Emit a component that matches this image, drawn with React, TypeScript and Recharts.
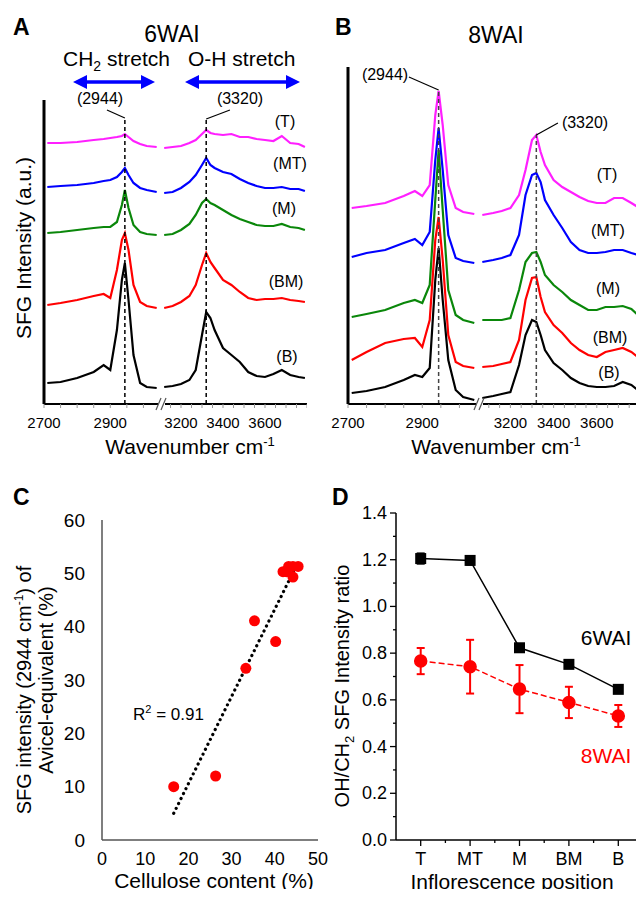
import React from "react";
import {
  ErrorBar,
  Line,
  LineChart,
  ReferenceLine,
  Scatter,
  ScatterChart,
  XAxis,
  YAxis,
} from "recharts";

const FONT = "Arial, 'Liberation Sans', Helvetica, sans-serif";

// ---- A / B: SFG spectra (a.u., stacked offsets as drawn)
const waveLeft = [2710, 2750, 2800, 2850, 2880, 2900, 2920, 2935, 2944, 2955, 2970, 2990, 3010, 3040];
const waveRightA = [3120, 3160, 3200, 3240, 3270, 3300, 3320, 3340, 3360, 3400, 3440, 3480, 3520, 3560, 3600, 3640, 3680, 3720, 3760, 3790];
const waveRightB = [3070, 3120, 3160, 3200, 3240, 3270, 3300, 3320, 3340, 3360, 3400, 3440, 3480, 3520, 3560, 3600, 3640, 3680, 3720, 3760, 3790];

// 6WAI
const sixLeftT = [261, 261, 262, 264, 265, 266, 267, 268, 270, 267, 263, 260, 258, 257];
const sixLeftMT = [217, 218, 219, 221, 223, 224, 227, 232, 236, 229, 221, 216, 214, 212];
const sixLeftM = [171, 172, 174, 176, 177, 177, 182, 199, 214, 196, 179, 172, 170, 169];
const sixLeftBM = [99, 101, 104, 108, 110, 106, 134, 164, 171, 154, 119, 102, 98, 96];
const sixLeftB = [21, 22, 26, 32, 39, 34, 74, 124, 141, 104, 49, 21, 17, 16];
const sixRightT = [256, 257, 258, 261, 264, 270, 274, 271, 270, 269, 270, 267, 267, 265, 264, 263, 268, 261, 260, 257];
const sixRightMT = [211, 212, 216, 222, 229, 239, 246, 239, 236, 232, 230, 225, 221, 218, 216, 216, 217, 215, 215, 213];
const sixRightM = [169, 170, 174, 180, 189, 201, 205, 201, 199, 194, 189, 185, 182, 179, 178, 178, 180, 177, 176, 174];
const sixRightBM = [96, 98, 102, 108, 119, 139, 151, 142, 136, 124, 119, 112, 106, 104, 105, 105, 106, 104, 103, 102];
const sixRightB = [17, 18, 20, 24, 34, 69, 92, 86, 74, 56, 49, 42, 32, 28, 27, 30, 34, 29, 27, 26];

// 8WAI
const eightLeftT = [196, 198, 201, 208, 213, 208, 219, 289, 313, 279, 219, 196, 192, 190];
const eightLeftMT = [147, 151, 154, 161, 165, 159, 172, 244, 276, 234, 169, 146, 143, 141];
const eightLeftM = [87, 90, 94, 101, 104, 101, 119, 204, 254, 194, 114, 89, 84, 81];
const eightLeftBM = [44, 52, 61, 65, 66, 57, 84, 164, 187, 144, 69, 42, 38, 36];
const eightLeftB = [11, 13, 17, 24, 29, 27, 36, 124, 156, 104, 44, 14, 7, 4];
const eightRightT = [189, 191, 193, 196, 209, 234, 264, 269, 252, 239, 224, 217, 212, 207, 203, 201, 201, 206, 206, 201, 197];
const eightRightMT = [142, 144, 146, 149, 169, 209, 229, 231, 222, 204, 189, 176, 162, 154, 151, 151, 152, 154, 154, 151, 149];
const eightRightM = [84, 84, 84, 86, 114, 142, 151, 152, 142, 129, 119, 112, 104, 99, 94, 94, 97, 97, 98, 95, 89];
const eightRightBM = [37, 38, 40, 42, 64, 104, 126, 127, 107, 92, 79, 71, 61, 54, 49, 47, 52, 54, 56, 52, 47];
const eightRightB = [6, 8, 10, 12, 39, 69, 84, 82, 69, 54, 41, 34, 26, 21, 18, 17, 17, 18, 22, 19, 14];

const ticksLeft = [2700, 2750, 2800, 2850, 2900, 2950, 3000, 3050];
const labelsLeft = [2700, 2900];
const ticksRightA = [3100, 3150, 3200, 3250, 3300, 3350, 3400, 3450, 3500, 3550, 3600, 3650, 3700, 3750, 3800];
const ticksRightB = [3050, 3100, 3150, 3200, 3250, 3300, 3350, 3400, 3450, 3500, 3550, 3600, 3650, 3700, 3750, 3800];
const labelsRight = [3200, 3400, 3600];

const traces = [
  { key: "T", color: "#ff1fff" },
  { key: "MT", color: "#0000ff" },
  { key: "M", color: "#0a870a" },
  { key: "BM", color: "#ff0000" },
  { key: "B", color: "#000000" },
];

// ---- C: SFG intensity vs cellulose content
const cellulose = [16.6, 26.3, 33.3, 35.3, 40.2, 41.9, 42.7, 43.2, 44.2, 45.4, 44.2];
const sfgAvicel = [10.0, 12.0, 32.2, 41.1, 37.2, 50.3, 50.3, 51.3, 51.3, 51.3, 49.3];
const trendX = [16.6, 44.6];
const trendY = [5.0, 50.8];

// ---- D: OH/CH2 ratio along inflorescence
const positions = ["T", "MT", "M", "BM", "B"];
const posIndex = [1, 2, 3, 4, 5];
const ratio6 = [1.205, 1.197, 0.823, 0.752, 0.645];
const err6 = [0.022, 0.018, 0.012, 0.012, 0.01];
const ratio8 = [0.766, 0.742, 0.646, 0.589, 0.531];
const err8 = [0.056, 0.115, 0.103, 0.067, 0.047];
const ratioTicks = [0, 0.1, 0.2, 0.3, 0.4, 0.5, 0.6, 0.7, 0.8, 0.9, 1.0, 1.1, 1.2, 1.3, 1.4];
const posTicks = [1, 1.5, 2, 2.5, 3, 3.5, 4, 4.5, 5];

const toRows = (waves: number[], T: number[], MT: number[], M: number[], BM: number[], B: number[]) =>
  waves.map((w, i) => ({ w, T: T[i], MT: MT[i], M: M[i], BM: BM[i], B: B[i] }));

function WaveTick(props: any) {
  const { x, y, payload, labels } = props;
  const show = labels.includes(payload.value);
  return (
    <g>
      <line x1={x} y1={y} x2={x} y2={y + 4} stroke="#999" strokeWidth={1} />
      {show && (
        <text x={x} y={y + 24} textAnchor="middle" fontSize={15} fontFamily={FONT} fill="#000">
          {payload.value}
        </text>
      )}
    </g>
  );
}

type SegProps = {
  rows: any[];
  domain: [number, number];
  ticks: number[];
  labels: number[];
  x: number;
  y: number;
  w: number;
  h: number;
  yMax: number;
  yAxis: boolean;
  children?: React.ReactNode;
};

// one side of the broken wavenumber axis
function SpectrumSegment({ rows, domain, ticks, labels, x, y, w, h, yMax, yAxis, children }: SegProps) {
  const padL = yAxis ? 30 : 0;
  return (
    <div style={{ position: "absolute", left: x - padL, top: y - 10 }}>
      <LineChart
        width={padL + w}
        height={10 + h + 40}
        data={rows}
        margin={{ top: 10, right: 0, bottom: 0, left: yAxis ? padL - 1 : 0 }}
      >
        <XAxis
          type="number"
          dataKey="w"
          domain={domain}
          ticks={ticks}
          interval={0}
          allowDataOverflow
          height={40}
          tickSize={0}
          tickMargin={0}
          tickLine={false}
          axisLine={{ stroke: "#000", strokeWidth: 2 }}
          tick={(p: any) => <WaveTick {...p} labels={labels} />}
        />
        <YAxis
          type="number"
          domain={[0, yMax]}
          hide={!yAxis}
          width={1}
          tick={false}
          tickLine={false}
          axisLine={{ stroke: "#000", strokeWidth: 3 }}
        />
        {traces.map((t) => (
          <Line
            key={t.key}
            type="linear"
            dataKey={t.key}
            stroke={t.color}
            strokeWidth={2.2}
            dot={false}
            isAnimationActive={false}
          />
        ))}
        {children}
      </LineChart>
    </div>
  );
}

function RatioYTick({ x, y, payload }: any) {
  const v = payload.value;
  const major = Math.round(v * 10) % 2 === 0;
  return (
    <g>
      <line x1={x} y1={y} x2={x - (major ? 6 : 3)} y2={y} stroke="#000" strokeWidth={1.3} />
      {major && (
        <text x={x - 9} y={y + 6} textAnchor="end" fontSize={18} fontFamily={FONT} fill="#000">
          {v.toFixed(1)}
        </text>
      )}
    </g>
  );
}

function RatioXTick({ x, y, payload }: any) {
  const v = payload.value;
  const major = Number.isInteger(v);
  return (
    <g>
      <line x1={x} y1={y} x2={x} y2={y + (major ? 6 : 3)} stroke="#000" strokeWidth={1.3} />
      {major && (
        <text x={x} y={y + 25} textAnchor="middle" fontSize={18} fontFamily={FONT} fill="#000">
          {positions[v - 1]}
        </text>
      )}
    </g>
  );
}

function Arrow({ x1, x2, y }: { x1: number; x2: number; y: number }) {
  return (
    <g fill="#0000ff" stroke="none">
      <line x1={x1 + 10} y1={y} x2={x2 - 10} y2={y} stroke="#0000ff" strokeWidth={3.5} />
      <polygon points={`${x1},${y} ${x1 + 14},${y - 7} ${x1 + 14},${y + 7}`} />
      <polygon points={`${x2},${y} ${x2 - 14},${y - 7} ${x2 - 14},${y + 7}`} />
    </g>
  );
}

function AxisBreak({ x, y }: { x: number; y: number }) {
  return (
    <g>
      <rect x={x - 3} y={y - 4} width={7} height={8} fill="#fff" />
      <line x1={x - 5} y1={y + 6} x2={x} y2={y - 6} stroke="#555" strokeWidth={1.2} />
      <line x1={x} y1={y + 6} x2={x + 5} y2={y - 6} stroke="#555" strokeWidth={1.2} />
    </g>
  );
}

export default function App() {
  const sixLeft = toRows(waveLeft, sixLeftT, sixLeftMT, sixLeftM, sixLeftBM, sixLeftB);
  const sixRight = toRows(waveRightA, sixRightT, sixRightMT, sixRightM, sixRightBM, sixRightB);
  const eightLeft = toRows(waveLeft, eightLeftT, eightLeftMT, eightLeftM, eightLeftBM, eightLeftB);
  const eightRight = toRows(waveRightB, eightRightT, eightRightMT, eightRightM, eightRightBM, eightRightB);
  const scatterRows = cellulose.map((x, i) => ({ x, y: sfgAvicel[i] }));
  const ratioRows = posIndex.map((p, i) => ({ p, r6: ratio6[i], e6: err6[i], r8: ratio8[i], e8: err8[i] }));

  const leader = { stroke: "#000", strokeWidth: 1.2 };
  const txt = { fontFamily: FONT, fill: "#000" };

  return (
    <div style={{ position: "relative", width: 644, height: 897, margin: -8, background: "#fff", overflow: "hidden" }}>
      {/* A: 6WAI */}
      <SpectrumSegment rows={sixLeft} domain={[2700, 3050]} ticks={ticksLeft} labels={labelsLeft}
        x={44} y={100} w={116} h={304} yMax={304} yAxis>
        <ReferenceLine segment={[{ x: 2944, y: 0 }, { x: 2944, y: 286 }]} stroke="#000" strokeWidth={1.5} strokeDasharray="4 3" />
        <ReferenceLine segment={[{ x: 2944, y: 286 }, { x: 2890, y: 294 }]} {...leader} />
      </SpectrumSegment>
      <SpectrumSegment rows={sixRight} domain={[3100, 3800]} ticks={ticksRightA} labels={labelsRight}
        x={160} y={100} w={147} h={304} yMax={304} yAxis={false}>
        <ReferenceLine segment={[{ x: 3320, y: 0 }, { x: 3320, y: 285 }]} stroke="#000" strokeWidth={1.5} strokeDasharray="4 3" />
        <ReferenceLine segment={[{ x: 3320, y: 285 }, { x: 3433, y: 294 }]} {...leader} />
      </SpectrumSegment>

      {/* B: 8WAI */}
      <SpectrumSegment rows={eightLeft} domain={[2700, 3050]} ticks={ticksLeft} labels={labelsLeft}
        x={348} y={67} w={130} h={337} yMax={337} yAxis>
        <ReferenceLine segment={[{ x: 2944, y: 0 }, { x: 2944, y: 314 }]} stroke="#444" strokeWidth={1.5} strokeDasharray="4 3" />
        <ReferenceLine segment={[{ x: 2944, y: 314 }, { x: 2864, y: 327 }]} {...leader} />
      </SpectrumSegment>
      <SpectrumSegment rows={eightRight} domain={[3050, 3800]} ticks={ticksRightB} labels={labelsRight}
        x={478} y={67} w={162} h={337} yMax={337} yAxis={false}>
        <ReferenceLine segment={[{ x: 3320, y: 0 }, { x: 3320, y: 269 }]} stroke="#444" strokeWidth={1.5} strokeDasharray="4 3" />
        <ReferenceLine segment={[{ x: 3320, y: 269 }, { x: 3420, y: 281 }]} {...leader} />
      </SpectrumSegment>

      {/* C: scatter */}
      <div style={{ position: "absolute", left: 62, top: 510 }}>
        <ScatterChart width={274} height={370} margin={{ top: 10, right: 18, bottom: 0, left: 0 }}>
          <XAxis
            type="number"
            dataKey="x"
            domain={[0, 50]}
            ticks={[0, 10, 20, 30, 40, 50]}
            interval={0}
            height={40}
            tickLine={false}
            tickSize={0}
            tickMargin={12}
            axisLine={{ stroke: "#555", strokeWidth: 1.5 }}
            tick={{ fontSize: 18, fill: "#000", fontFamily: FONT }}
          />
          <YAxis
            type="number"
            dataKey="y"
            domain={[0, 60]}
            ticks={[0, 10, 20, 30, 40, 50, 60]}
            interval={0}
            width={40}
            tickLine={false}
            tickSize={0}
            tickMargin={17}
            axisLine={{ stroke: "#555", strokeWidth: 1.5 }}
            tick={{ fontSize: 19, fill: "#000", fontFamily: FONT }}
          />
          <Scatter
            data={scatterRows}
            fill="#ff0000"
            isAnimationActive={false}
            shape={(p: any) => <circle cx={p.cx} cy={p.cy} r={5.5} fill="#ff0000" />}
          />
          <ReferenceLine
            segment={[{ x: trendX[0], y: trendY[0] }, { x: trendX[1], y: trendY[1] }]}
            stroke="#000"
            strokeWidth={3.2}
            strokeDasharray="0.1 5.4"
            strokeLinecap="round"
          />
        </ScatterChart>
      </div>

      {/* D: ratio */}
      <div style={{ position: "absolute", left: 336, top: 503 }}>
        <LineChart width={308} height={377} data={ratioRows} margin={{ top: 10, right: 1, bottom: 0, left: 0 }}>
          <XAxis
            type="number"
            dataKey="p"
            domain={[0.5, 5.5]}
            ticks={posTicks}
            interval={0}
            height={40}
            tickSize={0}
            tickMargin={0}
            tickLine={false}
            axisLine={{ stroke: "#000", strokeWidth: 1.5 }}
            tick={(p: any) => <RatioXTick {...p} />}
          />
          <YAxis
            type="number"
            domain={[0, 1.4]}
            ticks={ratioTicks}
            interval={0}
            width={60}
            tickSize={0}
            tickMargin={0}
            tickLine={false}
            axisLine={{ stroke: "#000", strokeWidth: 1.5 }}
            tick={(p: any) => <RatioYTick {...p} />}
          />
          <Line
            type="linear"
            dataKey="r6"
            stroke="#000"
            strokeWidth={1.5}
            isAnimationActive={false}
            dot={(p: any) => <rect key={`s${p.index}`} x={p.cx - 5.5} y={p.cy - 5.5} width={11} height={11} fill="#000" />}
          >
            <ErrorBar dataKey="e6" width={4} stroke="#000" strokeWidth={2} />
          </Line>
          <Line
            type="linear"
            dataKey="r8"
            stroke="#ff0000"
            strokeWidth={1.5}
            strokeDasharray="6 3"
            isAnimationActive={false}
            dot={{ r: 6, fill: "#ff0000", stroke: "#ff0000", strokeDasharray: "" }}
          >
            <ErrorBar dataKey="e8" width={4} stroke="#ff0000" strokeWidth={2} />
          </Line>
        </LineChart>
      </div>

      {/* annotations */}
      <svg width={644} height={897} style={{ position: "absolute", left: 0, top: 0, pointerEvents: "none" }}>
        <AxisBreak x={161} y={404} />
        <AxisBreak x={479} y={404} />

        {/* A */}
        <text x={13} y={35} fontSize={23} fontWeight="bold" {...txt}>A</text>
        <text x={172} y={42} fontSize={23} textAnchor="middle" {...txt}>6WAI</text>
        <text x={63} y={66} fontSize={21} {...txt}>
          CH<tspan dy={5} fontSize={14}>2</tspan><tspan dy={-5}> stretch</tspan>
        </text>
        <text x={188} y={66} fontSize={21} {...txt}>O-H stretch</text>
        <Arrow x1={73} x2={155} y={82} />
        <Arrow x1={185} x2={300} y={82} />
        <text x={100} y={104} fontSize={16} textAnchor="middle" {...txt}>(2944)</text>
        <text x={240} y={104} fontSize={16} textAnchor="middle" {...txt}>(3320)</text>
        <text x={285} y={127} fontSize={16} textAnchor="middle" {...txt}>(T)</text>
        <text x={290} y={169} fontSize={16} textAnchor="middle" {...txt}>(MT)</text>
        <text x={284} y={214} fontSize={16} textAnchor="middle" {...txt}>(M)</text>
        <text x={286} y={287} fontSize={16} textAnchor="middle" {...txt}>(BM)</text>
        <text x={287} y={362} fontSize={16} textAnchor="middle" {...txt}>(B)</text>
        <text transform="translate(31,248) rotate(-90)" fontSize={21} textAnchor="middle" {...txt}>SFG Intensity (a.u.)</text>
        <text x={190} y={454} fontSize={21} textAnchor="middle" {...txt}>
          Wavenumber cm<tspan dy={-8} fontSize={13}>-1</tspan>
        </text>

        {/* B */}
        <text x={335} y={35} fontSize={23} fontWeight="bold" {...txt}>B</text>
        <text x={496} y={43} fontSize={23} textAnchor="middle" {...txt}>8WAI</text>
        <text x={385} y={80} fontSize={16} textAnchor="middle" {...txt}>(2944)</text>
        <text x={585} y={128} fontSize={16} textAnchor="middle" {...txt}>(3320)</text>
        <text x={607} y={180} fontSize={16} textAnchor="middle" {...txt}>(T)</text>
        <text x={608} y={236} fontSize={16} textAnchor="middle" {...txt}>(MT)</text>
        <text x={608} y={294} fontSize={16} textAnchor="middle" {...txt}>(M)</text>
        <text x={610} y={343} fontSize={16} textAnchor="middle" {...txt}>(BM)</text>
        <text x={609} y={378} fontSize={16} textAnchor="middle" {...txt}>(B)</text>
        <text x={496} y={454} fontSize={21} textAnchor="middle" {...txt}>
          Wavenumber cm<tspan dy={-8} fontSize={13}>-1</tspan>
        </text>

        {/* C */}
        <text x={13} y={505} fontSize={23} fontWeight="bold" {...txt}>C</text>
        <text transform="translate(31,690) rotate(-90)" fontSize={20} textAnchor="middle" {...txt}>
          SFG intensity (2944 cm<tspan dy={-8} fontSize={12}>-1</tspan><tspan dy={8}>) of</tspan>
        </text>
        <text transform="translate(53,680) rotate(-90)" fontSize={20} textAnchor="middle" {...txt}>
          Avicel-equivalent (%)
        </text>
        <text x={214} y={888} fontSize={21} textAnchor="middle" {...txt}>Cellulose content (%)</text>
        <text x={133} y={720} fontSize={17} {...txt}>
          R<tspan dy={-7} fontSize={11}>2</tspan><tspan dy={7}> = 0.91</tspan>
        </text>

        {/* D */}
        <text x={332} y={505} fontSize={23} fontWeight="bold" {...txt}>D</text>
        <text transform="translate(349,686) rotate(-90)" fontSize={20} textAnchor="middle" {...txt}>
          OH/CH<tspan dy={5} fontSize={13}>2</tspan><tspan dy={-5}> SFG Intensity ratio</tspan>
        </text>
        <text x={512} y={889} fontSize={21} textAnchor="middle" {...txt}>Inflorescence position</text>
        <text x={606} y={645} fontSize={21} textAnchor="middle" {...txt}>6WAI</text>
        <text x={606} y={763} fontSize={21} textAnchor="middle" fontFamily={FONT} fill="#ff0000">8WAI</text>
      </svg>
    </div>
  );
}
